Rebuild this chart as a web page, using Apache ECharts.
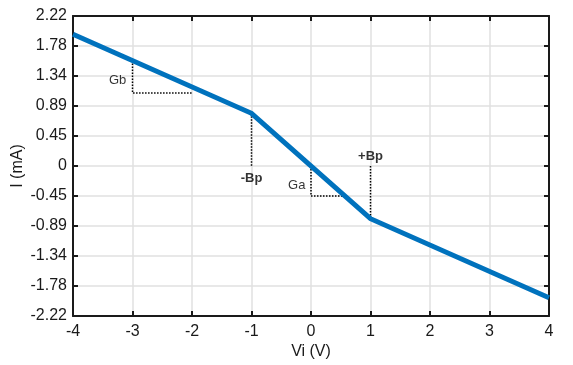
<!DOCTYPE html>
<html>
<head>
<meta charset="utf-8">
<script src="https://cdn.jsdelivr.net/npm/echarts@6/dist/echarts.min.js"></script>
<style>
html,body{margin:0;padding:0;background:#fff;}
#chart{width:573px;height:365px;}
</style>
</head>
<body>
<div id="chart"></div>
<script>
// Data
var vi = [-4, -1, 1, 4];
var current = [1.95, 0.78, -0.78, -1.95];
var yTickLabels = ['-2.22','-1.78','-1.34','-0.89','-0.45','0','0.45','0.89','1.34','1.78','2.22'];
var xTickLabels = ['-4','-3','-2','-1','0','1','2','3','4'];
var gbTriangleX = [-3, -3, -2];
var gbTriangleY = [1.56, 1.08, 1.08];
var gaTriangleX = [0, 0, 0.55];
var gaTriangleY = [0, -0.444, -0.444];
var negBpX = [-1, -1];
var negBpY = [0.78, 0];
var posBpX = [1, 1];
var posBpY = [0, -0.78];
var annText = ['Gb', 'Ga', '-Bp', '+Bp'];
var annX = [-3.25, -0.24, -1, 1];
var annY = [1.26, -0.29, -0.18, 0.14];
var annBold = [false, false, true, true];

function zip(xs, ys){ return xs.map(function(x,i){ return [x, ys[i]]; }); }

var FONT = '"Liberation Sans", Arial, sans-serif';
var INK = '#1a1a1a';
var chart = echarts.init(document.getElementById('chart'), null, {renderer:'canvas'});
var dotted = {color:'#000', width:1.5, type:[1.5,1.5]};
var frameLine = {show:true, onZero:false, lineStyle:{color:INK, width:2}};
var frameTick = {show:true, inside:true, length:5, lineStyle:{color:INK, width:2}};
var grid = {show:true, lineStyle:{color:'#e0e0e0', width:1.5}};

chart.setOption({
  animation:false,
  backgroundColor:'#fff',
  grid:{left:73, right:24, top:16, bottom:49, show:false, containLabel:false, outerBoundsMode:'none'},
  xAxis:[{
    type:'value', min:-4, max:4, interval:1,
    name:'Vi (V)', nameLocation:'middle', nameGap:28, nameMoveOverlap:false,
    nameTextStyle:{fontFamily:FONT, fontSize:16, color:INK},
    axisLine:frameLine, axisTick:frameTick,
    axisLabel:{fontFamily:FONT, fontSize:16, color:INK, margin:8,
      formatter:function(v){ return xTickLabels[Math.round(v+4)]; }},
    splitLine:grid
  },{
    type:'value', min:-4, max:4, interval:1, position:'top',
    axisLine:frameLine, axisTick:frameTick,
    axisLabel:{show:false}, splitLine:{show:false}
  }],
  yAxis:[{
    type:'value', min:-2.22, max:2.22, interval:0.444,
    name:'I (mA)', nameLocation:'middle', nameGap:47, nameRotate:90, nameMoveOverlap:false,
    nameTextStyle:{fontFamily:FONT, fontSize:16, color:INK},
    axisLine:frameLine, axisTick:frameTick,
    axisLabel:{fontFamily:FONT, fontSize:16, color:INK, margin:6,
      formatter:function(v){ return yTickLabels[Math.round((v+2.22)/0.444)]; }},
    splitLine:grid
  },{
    type:'value', min:-2.22, max:2.22, interval:0.444, position:'right',
    axisLine:frameLine, axisTick:frameTick,
    axisLabel:{show:false}, splitLine:{show:false}
  }],
  series:[
    {type:'line', data:zip(gbTriangleX, gbTriangleY), symbol:'none', lineStyle:dotted, z:1},
    {type:'line', data:zip(gaTriangleX, gaTriangleY), symbol:'none', lineStyle:dotted, z:1},
    {type:'line', data:zip(negBpX, negBpY), symbol:'none', lineStyle:dotted, z:1},
    {type:'line', data:zip(posBpX, posBpY), symbol:'none', lineStyle:dotted, z:1},
    {type:'line', data:zip(vi, current), symbol:'none', z:3,
      lineStyle:{color:'#0072BD', width:5, cap:'butt', join:'miter'}},
    {type:'scatter', symbolSize:0, z:4,
      data:annText.map(function(t,i){ return {value:[annX[i], annY[i]], name:t,
        label:{fontWeight: annBold[i] ? 'bold' : 'normal'}}; }),
      label:{show:true, position:'inside', color:'#000', fontFamily:FONT, fontSize:13,
        formatter:function(p){ return p.name; }},
      emphasis:{disabled:true}
    }
  ]
});
</script>
</body>
</html>
